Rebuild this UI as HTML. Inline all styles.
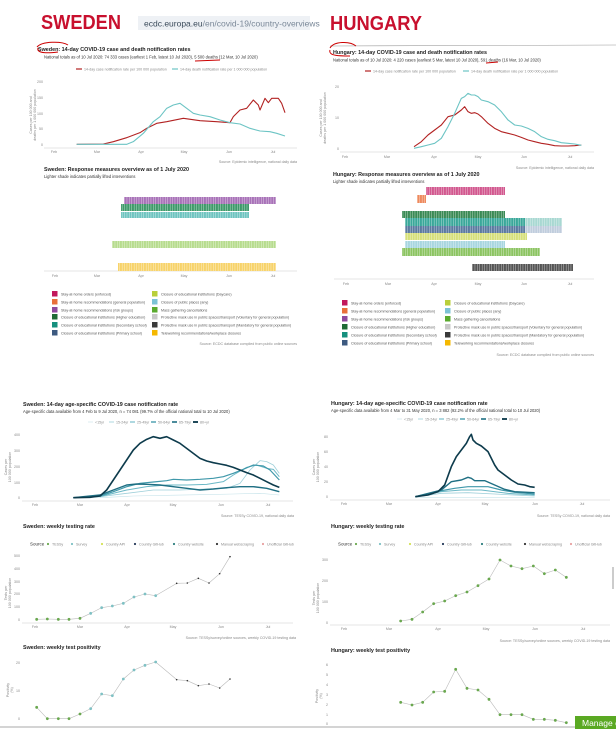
<!DOCTYPE html>
<html><head><meta charset="utf-8"><style>
html,body{margin:0;padding:0;background:#fff;}
svg{display:block;font-family:"Liberation Sans",sans-serif;}
.t{font-size:5.4px;font-weight:bold;fill:#222}
.s{font-size:4.1px;fill:#333}
.k{font-size:3.6px;fill:#888}
.l{font-size:3.6px;fill:#555}
.big{font-size:20px;font-weight:900;fill:#c8102e;font-family:"Liberation Sans",sans-serif}
</style></head><body>
<svg id="g" width="616" height="729" viewBox="0 0 616 729" xmlns="http://www.w3.org/2000/svg">
<defs id="defs"></defs>
<rect width="616" height="729" fill="#fff"/>
<text x="41" y="29" class="big" textLength="80" lengthAdjust="spacingAndGlyphs">SWEDEN</text>
<rect x="138" y="16" width="172" height="14" fill="#eef1f5"/>
<text x="144" y="26.5" style="font-size:8.5px;fill:#3a4a5a">ecdc.europa.eu<tspan fill="#7a8898">/en/covid-19/country-overviews</tspan></text>
<text x="330" y="30" class="big" textLength="92" lengthAdjust="spacingAndGlyphs">HUNGARY</text>
<line x1="330" y1="46" x2="616" y2="45" stroke="#999" stroke-width="0.6"/>

<text x="38" y="51" class="t">Sweden: 14-day COVID-19 case and death notification rates</text>
<text x="44" y="58.5" class="s">National totals as of 10 Jul 2020: 74 333 cases (earliest 1 Feb, latest 10 Jul 2020), 5 500 deaths (12 Mar, 10 Jul 2020)</text>
<path d="M37,47 C42,41 62,41 68,45 M38,48 C36,54 50,53 58,52 M195,61 L220,60" stroke="#c00" stroke-width="1" fill="none"/>
<line x1="76" y1="69" x2="82" y2="69" stroke="#b22222" stroke-width="1.2"/><text x="84" y="70.5" class="k">14-day case notification rate per 100 000 population</text>
<line x1="172" y1="69" x2="178" y2="69" stroke="#6cc4c4" stroke-width="1.2"/><text x="180" y="70.5" class="k">14-day death notification rate per 1 000 000 population</text>
<g class="k" text-anchor="end"><text x="43" y="83">200</text><text x="43" y="99">150</text><text x="43" y="115">100</text><text x="43" y="130">50</text><text x="43" y="146">0</text></g>
<text transform="translate(32,115) rotate(-90)" class="k" text-anchor="middle">Cases per 100 000 and</text>
<text transform="translate(36,115) rotate(-90)" class="k" text-anchor="middle">deaths per 1 000 000 population</text>
<line x1="44" y1="148" x2="297" y2="148" stroke="#ccc" stroke-width="0.5"/>
<g class="k" text-anchor="middle"><text x="54" y="153">Feb</text><text x="97" y="153">Mar</text><text x="141" y="153">Apr</text><text x="184" y="153">May</text><text x="229" y="153">Jun</text><text x="273" y="153">Jul</text></g>
<text x="297" y="163" class="k" text-anchor="end">Source: Epidemic intelligence, national daily data</text>

<text x="44" y="171" class="t">Sweden: Response measures overview as of 1 July 2020</text>
<text x="44" y="178" class="s">Lighter shade indicates partially lifted interventions</text>
<line x1="44" y1="271" x2="297" y2="271" stroke="#ccc" stroke-width="0.5"/>
<g class="k" text-anchor="middle"><text x="55" y="277">Feb</text><text x="97" y="277">Mar</text><text x="141" y="277">Apr</text><text x="184" y="277">May</text><text x="229" y="277">Jun</text><text x="273" y="277">Jul</text></g>
<g id="legS"></g>
<text x="297" y="345" class="k" text-anchor="end">Source: ECDC database compiled from public online sources</text>

<text x="333" y="54" class="t">Hungary: 14-day COVID-19 case and death notification rates</text>
<text x="333" y="61.5" class="s">National totals as of 10 Jul 2020: 4 220 cases (earliest 5 Mar, latest 10 Jul 2020), 591 deaths (16 Mar, 10 Jul 2020)</text>
<path d="M330,48 C334,41 350,41 356,46 M330,50 C328,56 340,56 350,56 M486,63 L498,62" stroke="#c00" stroke-width="1" fill="none"/>
<line x1="365" y1="71" x2="371" y2="71" stroke="#b22222" stroke-width="1.2"/><text x="373" y="72.5" class="k">14-day case notification rate per 100 000 population</text>
<line x1="463" y1="71" x2="469" y2="71" stroke="#6cc4c4" stroke-width="1.2"/><text x="471" y="72.5" class="k">14-day death notification rate per 1 000 000 population</text>
<g class="k" text-anchor="end"><text x="339" y="88">20</text><text x="339" y="119">10</text><text x="339" y="150">0</text></g>
<text transform="translate(322,118) rotate(-90)" class="k" text-anchor="middle">Cases per 100 000 and</text>
<text transform="translate(326,118) rotate(-90)" class="k" text-anchor="middle">deaths per 1 000 000 population</text>
<line x1="340" y1="152" x2="594" y2="152" stroke="#ccc" stroke-width="0.5"/>
<g class="k" text-anchor="middle"><text x="345" y="158">Feb</text><text x="387" y="158">Mar</text><text x="434" y="158">Apr</text><text x="478" y="158">May</text><text x="524" y="158">Jun</text><text x="570" y="158">Jul</text></g>
<text x="594" y="169" class="k" text-anchor="end">Source: Epidemic intelligence, national daily data</text>

<text x="333" y="176" class="t">Hungary: Response measures overview as of 1 July 2020</text>
<text x="333" y="183" class="s">Lighter shade indicates partially lifted interventions</text>
<line x1="334" y1="279" x2="594" y2="279" stroke="#ccc" stroke-width="0.5"/>
<g class="k" text-anchor="middle"><text x="346" y="285">Feb</text><text x="388" y="285">Mar</text><text x="434" y="285">Apr</text><text x="478" y="285">May</text><text x="524" y="285">Jun</text><text x="570" y="285">Jul</text></g>
<g id="legH"></g>
<text x="594" y="356" class="k" text-anchor="end">Source: ECDC database compiled from public online sources</text>

<text x="23" y="406" class="t">Sweden: 14-day age-specific COVID-19 case notification rate</text>
<text x="23" y="413" class="s">Age-specific data available from 4 Feb to 9 Jul 2020, n = 74 081 (99.7% of the official national total to 10 Jul 2020)</text>
<g id="ageLegS"></g>
<g class="k" text-anchor="end"><text x="20" y="436">400</text><text x="20" y="452">300</text><text x="20" y="468">200</text><text x="20" y="484">100</text><text x="20" y="499">0</text></g>
<text transform="translate(7,467) rotate(-90)" class="k" text-anchor="middle">Cases per</text>
<text transform="translate(11,467) rotate(-90)" class="k" text-anchor="middle">100 000 population</text>
<line x1="22" y1="501" x2="293" y2="501" stroke="#ccc" stroke-width="0.5"/>
<g class="k" text-anchor="middle"><text x="35" y="506">Feb</text><text x="80" y="506">Mar</text><text x="127" y="506">Apr</text><text x="173" y="506">May</text><text x="221" y="506">Jun</text><text x="268" y="506">Jul</text></g>
<text x="294" y="517" class="k" text-anchor="end">Source: TESSy COVID-19, national daily data</text>
<text x="23" y="528" class="t">Sweden: weekly testing rate</text>
<g id="srcLegS"></g>
<g class="k" text-anchor="end"><text x="20" y="557">500</text><text x="20" y="570">400</text><text x="20" y="583">300</text><text x="20" y="595">200</text><text x="20" y="608">100</text><text x="20" y="621">0</text></g>
<text transform="translate(7,593) rotate(-90)" class="k" text-anchor="middle">Tests per</text>
<text transform="translate(11,593) rotate(-90)" class="k" text-anchor="middle">100 000 population</text>
<line x1="22" y1="623" x2="293" y2="623" stroke="#ccc" stroke-width="0.5"/>
<g class="k" text-anchor="middle"><text x="35" y="628">Feb</text><text x="80" y="628">Mar</text><text x="127" y="628">Apr</text><text x="173" y="628">May</text><text x="221" y="628">Jun</text><text x="268" y="628">Jul</text></g>
<text x="296" y="639" class="k" text-anchor="end">Source: TESSy/survey/online sources, weekly COVID-19 testing data</text>
<text x="23" y="649" class="t">Sweden: weekly test positivity</text>
<g class="k" text-anchor="end"><text x="20" y="664">20</text><text x="20" y="692">10</text><text x="20" y="720">0</text></g>
<text transform="translate(9,690) rotate(-90)" class="k" text-anchor="middle">Positivity</text>
<text transform="translate(13,690) rotate(-90)" class="k" text-anchor="middle">(%)</text>

<text x="331" y="405" class="t">Hungary: 14-day age-specific COVID-19 case notification rate</text>
<text x="331" y="412" class="s">Age-specific data available from 4 Mar to 31 May 2020, n = 3 882 (92.2% of the official national total to 10 Jul 2020)</text>
<g id="ageLegH"></g>
<g class="k" text-anchor="end"><text x="328" y="438">80</text><text x="328" y="453">60</text><text x="328" y="468">40</text><text x="328" y="483">20</text><text x="328" y="498">0</text></g>
<text transform="translate(315,467) rotate(-90)" class="k" text-anchor="middle">Cases per</text>
<text transform="translate(319,467) rotate(-90)" class="k" text-anchor="middle">100 000 population</text>
<line x1="330" y1="500" x2="610" y2="500" stroke="#ccc" stroke-width="0.5"/>
<g class="k" text-anchor="middle"><text x="344" y="505">Feb</text><text x="389" y="505">Mar</text><text x="438" y="505">Apr</text><text x="485" y="505">May</text><text x="535" y="505">Jun</text><text x="582" y="505">Jul</text></g>
<text x="610" y="517" class="k" text-anchor="end">Source: TESSy COVID-19, national daily data</text>
<text x="331" y="528" class="t">Hungary: weekly testing rate</text>
<g id="srcLegH"></g>
<g class="k" text-anchor="end"><text x="328" y="561">300</text><text x="328" y="582">200</text><text x="328" y="603">100</text><text x="328" y="624">0</text></g>
<text transform="translate(315,598) rotate(-90)" class="k" text-anchor="middle">Tests per</text>
<text transform="translate(319,598) rotate(-90)" class="k" text-anchor="middle">100 000 population</text>
<line x1="330" y1="625" x2="610" y2="625" stroke="#ccc" stroke-width="0.5"/>
<g class="k" text-anchor="middle"><text x="344" y="630">Feb</text><text x="389" y="630">Mar</text><text x="438" y="630">Apr</text><text x="486" y="630">May</text><text x="535" y="630">Jun</text><text x="583" y="630">Jul</text></g>
<text x="610" y="642" class="k" text-anchor="end">Source: TESSy/survey/online sources, weekly COVID-19 testing data</text>
<text x="331" y="652" class="t">Hungary: weekly test positivity</text>
<g class="k" text-anchor="end"><text x="328" y="666">6</text><text x="328" y="676">5</text><text x="328" y="686">4</text><text x="328" y="696">3</text><text x="328" y="706">2</text><text x="328" y="716">1</text><text x="328" y="725">0</text></g>
<text transform="translate(318,696) rotate(-90)" class="k" text-anchor="middle">Positivity</text>
<text transform="translate(322,696) rotate(-90)" class="k" text-anchor="middle">(%)</text>
<g id="dyn"></g>
<rect x="575" y="716" width="41" height="13" fill="#5aa923"/>
<text x="582" y="726" style="font-size:8.5px;fill:#fff">Manage c</text>
<rect x="612" y="567" width="2" height="22" fill="#ccc"/>
</svg>
<script>
const NS="http://www.w3.org/2000/svg";
const svg=document.getElementById('g'),dyn=document.getElementById('dyn'),defs=document.getElementById('defs');
function el(t,a,p){const e=document.createElementNS(NS,t);for(const k in a)e.setAttribute(k,a[k]);(p||dyn).appendChild(e);return e;}
function Z(arr,ox,oy){const r=[];for(let i=0;i<arr.length;i+=2)r.push([ox+arr[i]/3,oy+arr[i+1]/3]);return r;}
function line(pts,c,w){el('polyline',{points:pts.map(p=>p.join(',')).join(' '),fill:'none',stroke:c,'stroke-width':w,'stroke-linejoin':'round'});}
let pid=0;
function bar(x1,x2,y1,y2,c){const id='p'+(pid++);const p=el('pattern',{id:id,width:2.4,height:10,patternUnits:'userSpaceOnUse'},defs);el('rect',{width:2.4,height:10,fill:c},p);el('rect',{x:2,width:0.4,height:10,fill:'#fff',opacity:0.8},p);el('rect',{x:x1,y:y1,width:x2-x1,height:y2-y1,fill:'url(#'+id+')'});}
line(Z([230,433,310,432,340,425,380,413,420,398,440,385,470,370,500,365,550,355,600,362,650,365,690,368,700,350,720,330,740,325,760,300,775,315,780,330,795,295,805,308,815,295,835,295,845,310,855,338],0,0),'#b22222',1.1);
line(Z([230,433,380,433,400,425,430,400,460,365,480,350,500,325,520,315,540,310,560,325,580,340,600,345,630,350,660,360,690,368,720,372,750,385,780,393,810,395,830,400,855,408],0,0),'#6cc4c4',1.1);
line(Z([318,440,340,425,360,405,380,390,400,375,420,350,440,345,460,330,470,320,480,335,490,340,500,338,510,342,520,350,540,370,560,385,580,395,600,400,620,405,640,412,660,420,680,425,700,430,720,433,740,437,760,438,780,438,800,437,820,435],308,0),'#b22222',1.1);
line(Z([318,445,340,440,360,435,380,430,400,415,420,380,440,340,460,295,470,290,480,280,490,285,500,285,510,290,520,300,540,305,560,315,580,335,600,360,620,375,640,378,660,385,680,395,700,410,720,418,740,422,760,428,780,430,800,432,820,436],308,0),'#6cc4c4',1.1);
bar(124,276,197,204,'#a872b8');bar(121,249,204,211,'#3f9a6a');bar(121,249,212,218,'#6fc4c0');bar(112,276,241,248,'#b7dc8e');bar(118,276,263,271,'#f7d36a');
bar(426,505,187,195,'#d2588f');bar(417,426,195,203,'#ee8a5e');bar(402,505,211,218,'#3b8a55');bar(405,525,218,226,'#3aa89a');bar(525,562,218,226,'#a8d8d2');
bar(405,525,226,233,'#5b7aa0');bar(525,562,226,233,'#c0cddd');bar(405,527,233,240,'#d6e07a');bar(405,505,241,248,'#a8d6e0');bar(402,540,248,256,'#8cc462');bar(472,573,264,271,'#555');
const L1=['Stay-at-home orders (enforced)','Stay-at-home recommendations (general population)','Stay-at-home recommendations (risk groups)','Closure of educational institutions (Higher education)','Closure of educational institutions (Secondary school)','Closure of educational institutions (Primary school)'];
const C1=['#c2185b','#e8703a','#8e4a9e','#1f6b35','#16907e','#3d5a80'];
const L2=['Closure of educational institutions (Daycare)','Closure of public places (any)','Mass gathering cancellations','Protective mask use in public spaces/transport (Voluntary for general population)','Protective mask use in public spaces/transport (Mandatory for general population)','Teleworking recommendations/workplace closures'];
const C2=['#b9cf3a','#7dc3d6','#5aaa2e','#c8c8c8','#3a3a3a','#f5b800'];
function legend(x1,x2,ys,g){const p=document.getElementById(g);for(let i=0;i<6;i++){el('rect',{x:x1,y:ys[i]-3,width:5.5,height:5.5,fill:C1[i]},p);el('text',{x:x1+9,y:ys[i]+1.3,class:'l'},p).textContent=L1[i];el('rect',{x:x2,y:ys[i]-3,width:5.5,height:5.5,fill:C2[i]},p);el('text',{x:x2+9,y:ys[i]+1.3,class:'l'},p).textContent=L2[i];}}
legend(52,152,[294,302,310,317,325,333],'legS');
legend(342,445,[303,311,319,327,335,343],'legH');
const ages=['<15yr','15-24yr','25-49yr','50-64yr','65-79yr','80+yr'];
const ac=['#c6e3ea','#9fd0da','#6bb8c6','#3f98aa','#1f6f83','#0d3b4c'];
function ageLeg(x,y,g){const p=document.getElementById(g);for(let i=0;i<6;i++){const xx=x+i*21;el('line',{x1:xx,y1:y,x2:xx+5,y2:y,stroke:ac[i],'stroke-width':0.6+i*0.25},p);el('text',{x:xx+7,y:y+1.3,class:'k'},p).textContent=ages[i];}}
ageLeg(88,422,'ageLegS');ageLeg(397,419,'ageLegH');
const sa=[[300,323,400,318,500,316,600,314,700,312,780,310,838,315],[220,323,300,320,380,310,460,300,540,300,620,297,680,295,720,280,750,240,780,212,800,215,820,225,838,250],[220,323,300,320,380,300,440,290,500,285,560,285,620,283,670,275,700,255,740,232,770,225,800,235,820,238,838,260],[220,323,300,318,340,305,380,290,420,280,460,276,500,272,520,268,560,270,600,268,640,265,670,260,700,250,730,238,760,225,790,228,810,240,838,270],[220,323,300,315,340,300,380,285,410,282,440,283,480,285,520,290,560,295,600,300,640,297,680,293,720,290,760,290,800,295,838,305],[220,323,270,322,300,318,320,300,340,270,360,240,380,210,400,180,420,160,440,148,460,140,480,145,500,140,520,150,540,160,560,175,580,190,600,205,620,213,640,218,660,222,680,226,700,232,720,240,740,248,760,255,780,265,800,275,820,285,838,292]];
sa.forEach((a,i)=>line(Z(a,0,390),ac[i],0.6+i*0.2));
const ha=[[322,322,680,322],[322,321,400,310,480,308,560,312,680,318],[322,320,400,305,460,300,520,300,600,310,680,315],[322,320,400,302,440,295,480,290,540,290,580,300,620,307,680,312],[322,320,400,300,430,275,460,270,480,262,490,265,500,272,530,272,560,285,590,298,620,305,680,308],[322,320,360,315,390,305,410,285,430,230,445,200,460,180,475,160,485,140,490,133,495,150,505,160,520,168,540,185,560,225,570,240,590,255,610,270,630,282,650,285,665,290,680,292]];
ha.forEach((a,i)=>line(Z(a,308,390),ac[i],0.6+i*0.2));
function srcLeg(x,y,g){const p=document.getElementById(g);el('text',{x:x,y:y+1.5,style:'font-size:4.5px;fill:#333'},p).textContent='Source';
const items=[['TESSy','#6aa84f',16],['Survey','#7fc1c4',22],['Country API','#d4e157',25],['Country GitHub','#263a5a',31],['Country website','#2f7f7f',35],['Manual webscraping','#333',38],['Unofficial GitHub','#e8a0a0',0]];
let xx=x+18;items.forEach(it=>{el('circle',{cx:xx,cy:y,r:1.1,fill:it[1]},p);el('text',{x:xx+4,y:y+1.3,class:'k'},p).textContent=it[0];xx+=it[2]+8;});}
srcLeg(30,544,'srcLegS');srcLeg(338,544,'srcLegH');
function pts(arr,ox,oy,cols){const P=Z(arr,ox,oy);line(P,'#bbb',0.6);P.forEach((p,i)=>el('circle',{cx:p[0],cy:p[1],r:cols[i]=='#333'?0.8:1.4,fill:cols[i]}));}
const G='#6aa84f',T='#7fc1c4',D='#333';
pts([110,178,142,177,175,178,207,178,240,175,272,160,305,143,337,138,370,130,402,111,435,102,467,107,530,70,562,69,595,55,627,69,659,41,690,-10],0,560,[G,G,G,G,G,T,T,T,T,T,T,T,D,D,D,D,D,D]);
pts([110,442,142,476,175,476,207,476,240,462,272,446,305,402,337,407,370,357,402,330,435,316,467,306,530,359,562,362,595,377,627,372,659,384,690,357],0,560,[G,G,G,G,G,T,T,T,T,T,T,T,D,D,D,D,D,D]);
const g16=Array(16).fill(G);
pts([278,183,312,178,344,156,377,131,410,123,443,107,477,96,510,77,543,57,576,0,609,18,642,26,676,18,709,41,742,30,775,52],308,560,g16);
pts([278,427,312,435,344,427,377,396,410,394,443,328,477,385,510,390,543,418,576,464,609,464,642,464,676,478,709,478,742,481,775,488],308,560,g16);
el('line',{x1:0,y1:727,x2:616,y2:727,stroke:'#aaa','stroke-width':1});
</script>
</body></html>
